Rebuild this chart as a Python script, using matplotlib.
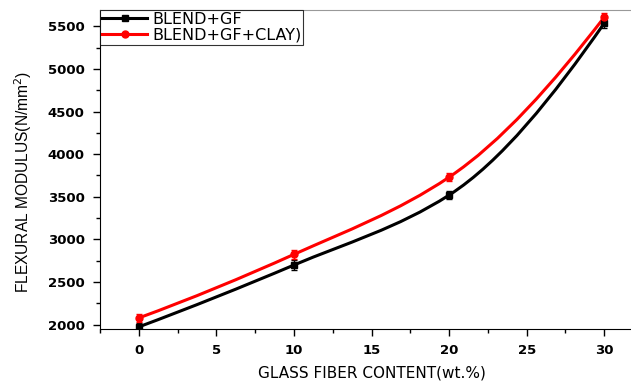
import numpy as np
import matplotlib.pyplot as plt
from matplotlib.path import Path
from matplotlib.patches import PathPatch

plt.rcParams['font.family'] = ['Liberation Sans', 'DejaVu Sans']

glass_fiber = [0, 10, 20, 30]
blend_gf = [1975, 2700, 3520, 5535]
blend_gf_err = [50, 60, 50, 55]
blend_gf_clay = [2080, 2825, 3730, 5605]
blend_gf_clay_err = [50, 50, 50, 55]


def smooth_path(x, y):
    # monotone cubic (pchip-like tangents) drawn as Bezier segments
    x = np.asarray(x, float)
    y = np.asarray(y, float)
    h = np.diff(x)
    d = np.diff(y) / h
    m = np.zeros_like(y)
    m[1:-1] = 2 * d[:-1] * d[1:] / (d[:-1] + d[1:])
    m[0] = (3 * d[0] - d[1]) / 2
    m[-1] = (3 * d[-1] - d[-2]) / 2
    verts = [(x[0], y[0])]
    codes = [Path.MOVETO]
    for i in range(len(x) - 1):
        verts += [(x[i] + h[i] / 3, y[i] + m[i] * h[i] / 3),
                  (x[i + 1] - h[i] / 3, y[i + 1] - m[i + 1] * h[i] / 3),
                  (x[i + 1], y[i + 1])]
        codes += [Path.CURVE4] * 3
    return Path(verts, codes)


fig = plt.figure(figsize=(6.31, 3.84), dpi=100)
ax = fig.add_axes([0.1585, 0.1432, 0.8605, 0.8307])

for y, err, color, marker, label in [
    (blend_gf, blend_gf_err, 'black', 's', 'BLEND+GF'),
    (blend_gf_clay, blend_gf_clay_err, 'red', 'o', 'BLEND+GF+CLAY)'),
]:
    ax.add_patch(PathPatch(smooth_path(glass_fiber, y), fill=False,
                           edgecolor=color, lw=2.2, zorder=2))
    ax.errorbar(glass_fiber, y, yerr=err, fmt='none', ecolor=color,
                elinewidth=1, capsize=2.5, capthick=1, zorder=3)
    ax.plot(glass_fiber, y, linestyle='none', marker=marker, color=color,
            markersize=5, zorder=4)
    ax.plot([], [], color=color, lw=2.2, marker=marker, markersize=5, label=label)

ax.set_xlim(-2.5, 32.5)
ax.set_ylim(1950, 5690)
ax.set_xticks([0, 5, 10, 15, 20, 25, 30])
ax.set_xticks(np.arange(-2.5, 32.6, 2.5), minor=True)
ax.set_yticks(np.arange(2000, 5501, 500))
ax.set_yticks(np.arange(2000, 5700, 250), minor=True)
ax.tick_params(which='major', direction='out', length=5, width=1, pad=6)
ax.tick_params(which='minor', direction='out', length=3, width=1)
for lab in ax.get_xticklabels() + ax.get_yticklabels():
    lab.set_fontfamily('DejaVu Sans')
    lab.set_fontweight('bold')
    lab.set_fontsize(9.5)

ax.spines['top'].set_color('#999999')
ax.spines['right'].set_visible(False)

ax.set_xlabel('GLASS FIBER CONTENT(wt.%)', fontsize=11, family='DejaVu Sans')
ax.xaxis.set_label_coords(0.5, -0.113)
ax.set_ylabel('FLEXURAL MODULUS(N/mm$^2$)', fontsize=11.2)
ax.yaxis.set_label_coords(-0.121, 0.462)

leg = ax.legend(loc='upper left', prop={'family': 'DejaVu Sans', 'size': 11.5},
                frameon=True, fancybox=False, borderaxespad=0, borderpad=0.12,
                handlelength=2.85, handletextpad=0.3, labelspacing=0.05)
leg.get_frame().set_edgecolor('black')
leg.get_frame().set_linewidth(0.8)

fig.savefig('out.png', dpi=100)
